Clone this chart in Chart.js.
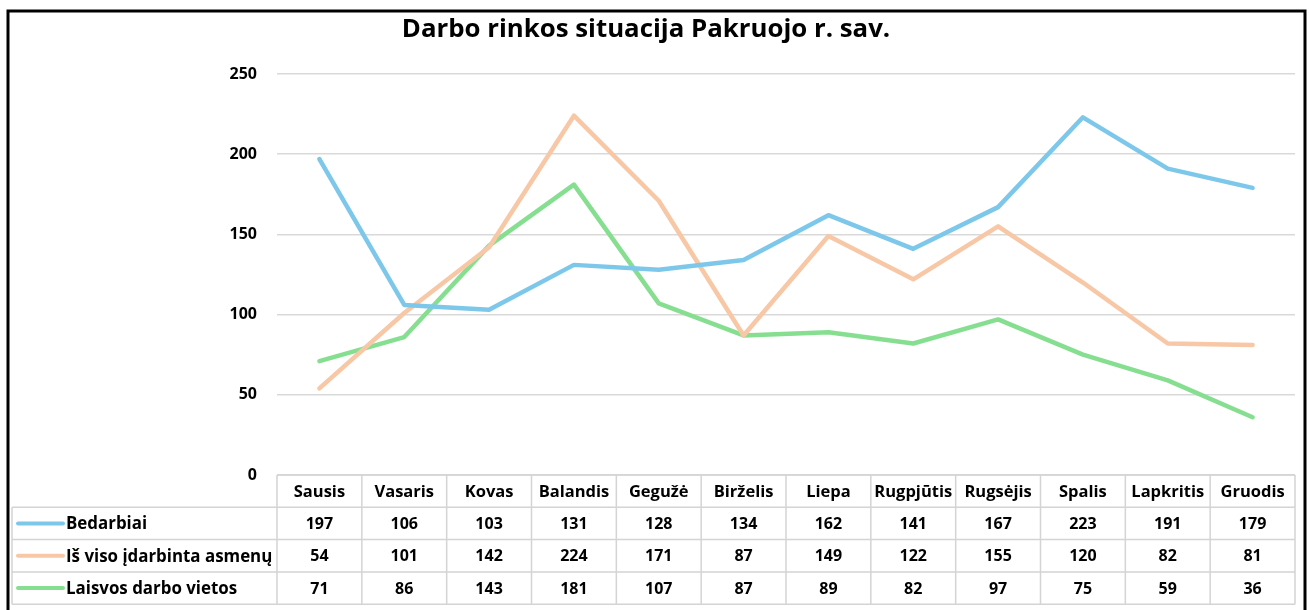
<!DOCTYPE html>
<html><head><meta charset="utf-8">
<script src="https://cdn.jsdelivr.net/npm/chart.js@4"></script>
<style>html,body{margin:0;padding:0;background:#fff;}#wrap{width:1309px;height:610px;}</style>
</head><body><div id="wrap"><canvas id="c" width="1309" height="610"></canvas></div>
<script>
const categories = ["Sausis","Vasaris","Kovas","Balandis","Gegužė","Birželis","Liepa","Rugpjūtis","Rugsėjis","Spalis","Lapkritis","Gruodis"];
const bedarbiai = [197,106,103,131,128,134,162,141,167,223,191,179];
const idarbinta = [54,101,142,224,171,87,149,122,155,120,82,81];
const laisvos = [71,86,143,181,107,87,89,82,97,75,59,36];
const seriesNames = ["Bedarbiai","Iš viso įdarbinta asmenų","Laisvos darbo vietos"];
const seriesColors = ["#7dc8ea","#f7c7a6","#86df90"];
const titleText = "Darbo rinkos situacija Pakruojo r. sav.";
const FONT = "'Open Sans', 'Liberation Sans', sans-serif";

const tablePlugin = {
  id: 'tablePlugin',
  afterDraw(chart) {
    const ctx = chart.ctx;
    const ca = chart.chartArea;
    const xs = chart.scales.x;
    const n = categories.length;
    const colW = (ca.right - ca.left) / n;
    const tableLeft = 12;
    const top = ca.bottom;
    const rowH = 32.3;
    ctx.save();
    // title
    ctx.fillStyle = '#000';
    ctx.font = "bold 25.8px " + FONT;
    ctx.textAlign = 'center';
    ctx.textBaseline = 'middle';
    ctx.fillText(titleText, 646, 30);
    // grid lines of table
    ctx.strokeStyle = '#d4d4d4';
    ctx.lineWidth = 1.5;
    ctx.beginPath();
    ctx.moveTo(ca.left, top); ctx.lineTo(ca.right, top);
    for (let r = 1; r <= 4; r++) {
      const y = top + r * rowH;
      ctx.moveTo(tableLeft, y); ctx.lineTo(ca.right, y);
    }
    for (let i = 0; i <= n; i++) {
      const x = ca.left + i * colW;
      ctx.moveTo(x, top); ctx.lineTo(x, top + 4 * rowH);
    }
    ctx.moveTo(tableLeft, top + rowH); ctx.lineTo(tableLeft, top + 4 * rowH);
    ctx.stroke();
    // header texts
    ctx.fillStyle = '#000';
    ctx.font = "bold 16.5px " + FONT;
    ctx.textAlign = 'center';
    ctx.textBaseline = 'middle';
    categories.forEach((c, i) => {
      ctx.fillText(c, xs.getPixelForValue(i), top + rowH / 2 + 1);
    });
    const data = [bedarbiai, idarbinta, laisvos];
    data.forEach((arr, r) => {
      const yc = top + (r + 1.5) * rowH + 1;
      ctx.strokeStyle = seriesColors[r];
      ctx.lineWidth = 4;
      ctx.lineCap = 'round';
      ctx.beginPath();
      ctx.moveTo(18, yc - 1); ctx.lineTo(63, yc - 1);
      ctx.stroke();
      ctx.fillStyle = '#000';
      ctx.font = "bold 16.9px " + FONT;
      ctx.textAlign = 'left';
      ctx.fillText(seriesNames[r], 66, yc);
      ctx.textAlign = 'center';
      ctx.font = "bold 16px " + FONT;
      arr.forEach((v, i) => {
        ctx.fillText(String(v), xs.getPixelForValue(i), yc);
      });
    });
    // outer frame
    ctx.strokeStyle = '#000';
    ctx.lineWidth = 3;
    ctx.strokeRect(8, 11, 1297, 620);
    ctx.restore();
  }
};

new Chart(document.getElementById('c'), {
  type: 'line',
  data: {
    labels: categories,
    datasets: [
      {label: seriesNames[0], data: bedarbiai, borderColor: seriesColors[0]},
      {label: seriesNames[1], data: idarbinta, borderColor: seriesColors[1]},
      {label: seriesNames[2], data: laisvos, borderColor: seriesColors[2]}
    ].map(d => Object.assign(d, {borderWidth: 4.5, pointRadius: 0, tension: 0, fill: false, borderCapStyle: 'round', borderJoinStyle: 'round'}))
  },
  options: {
    responsive: false,
    animation: false,
    layout: {padding: {top: 74, bottom: 135, right: 14, left: 0}},
    plugins: {legend: {display: false}, title: {display: false}, tooltip: {enabled: false}},
    scales: {
      x: {display: false, offset: true},
      y: {
        min: 0, max: 250,
        ticks: {stepSize: 50, padding: 20, color: '#000', font: {family: FONT, size: 16, weight: 'bold'}},
        grid: {color: '#d9d9d9', lineWidth: 1.5, drawTicks: false},
        border: {display: false},
        afterFit(scale) { scale.width = 277; }
      }
    }
  },
  plugins: [tablePlugin]
});
</script>
</body></html>
